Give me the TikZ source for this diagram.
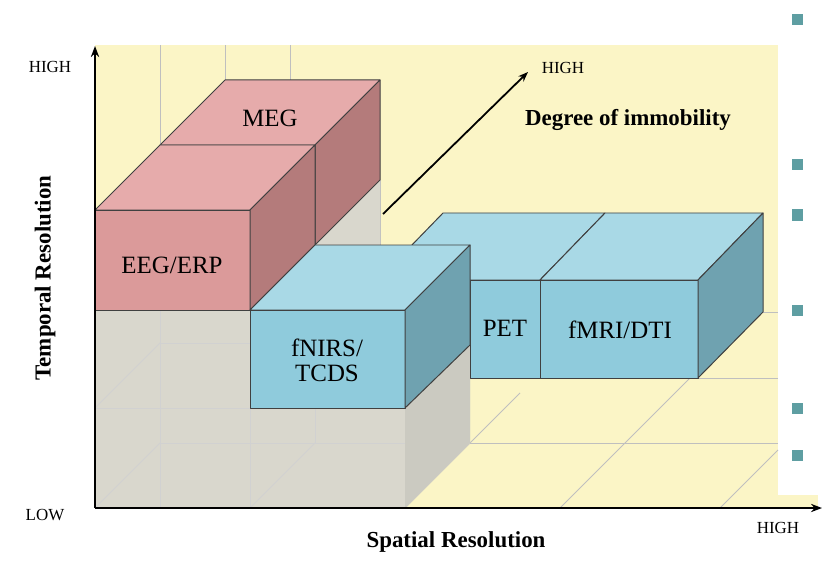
\documentclass[tikz,border=0pt]{standalone}
\usepackage{fontspec}
\setmainfont{Liberation Serif}
\usetikzlibrary{arrows.meta}
\definecolor{ybg}{HTML}{FBF5C6}
\definecolor{gfl}{HTML}{D9D7CD}
\definecolor{pfr}{HTML}{DB9A9A}
\definecolor{ptp}{HTML}{E6ABAB}
\definecolor{psd}{HTML}{B47B7B}
\definecolor{bfr}{HTML}{8FCBDC}
\definecolor{btp}{HTML}{A9D9E6}
\definecolor{bsd}{HTML}{6FA2B0}
\definecolor{teal}{HTML}{5E9EA2}
\tikzset{face/.style={draw=black!75,line width=1pt,line join=round},
 grid/.style={draw=black!25,line width=0.8pt},
 lab/.style={font=\fontsize{25}{26}\selectfont,align=center},
 small/.style={font=\fontsize{17}{19}\selectfont},
 bold/.style={font=\fontsize{23}{25}\selectfont\bfseries},
 sq/.style={fill=teal,minimum size=11bp,inner sep=0pt}}
\begin{document}
\begin{tikzpicture}[x=1bp,y=-1bp]
\useasboundingbox (0,0) rectangle (825,568);
\fill[ybg] (95,45) rectangle (778,508);
\fill[ybg] (778,495) rectangle (818,508);
% back grid lines
\foreach \x in {160,225,290}{\draw[grid] (\x,45) -- (\x,150);}
\draw[grid] (380,180) -- (380,245);
\draw[grid] (470,443) -- (778,443); \draw[grid] (470,378) -- (778,378);
\draw[grid] (763,312) -- (778,312);
\draw[grid] (405,508) -- (520,393); \draw[grid] (560,508) -- (690,378);
\draw[grid] (720,508) -- (778,450);
% gray stack
\fill[gfl] (95,310) -- (95,508) -- (405,508) -- (470,443) -- (470,245) -- (380,245) -- (380,180) -- (315,245) -- (250,310) -- cycle;
\fill[gfl!85!gray] (405,408) -- (470,345) -- (470,443) -- (405,508) -- cycle;
\begin{scope}[grid,draw=black!18]
\draw (95,408) -- (405,408); \draw (160,343) -- (405,343); \draw (160,443) -- (405,443);
\draw (160,310) -- (160,508); \draw (250,310) -- (250,508); \draw (315,245) -- (315,443);
\draw (95,508) -- (160,443); \draw (250,508) -- (315,443); \draw (95,408) -- (160,343);
\draw (250,408) -- (315,343); \draw (160,443) -- (160,343);
\end{scope}
% PET / fMRI
\filldraw[face,fill=btp] (378,280) -- (443,213) -- (605,213) -- (540,280) -- cycle;
\filldraw[face,fill=btp] (540,280) -- (605,213) -- (763,213) -- (698,280) -- cycle;
\filldraw[face,fill=bfr] (470,280) rectangle (540,378);
\filldraw[face,fill=bfr] (540,280) rectangle (698,378);
\filldraw[face,fill=bsd] (698,280) -- (763,213) -- (763,312) -- (698,378) -- cycle;
% MEG
\filldraw[face,fill=ptp] (160,145) -- (225,80) -- (380,80) -- (315,145) -- cycle;
\filldraw[face,fill=psd] (315,145) -- (380,80) -- (380,180) -- (315,245) -- cycle;
% EEG
\filldraw[face,fill=ptp] (95,210) -- (160,145) -- (315,145) -- (250,210) -- cycle;
\filldraw[face,fill=pfr] (95,210) rectangle (250,310);
\filldraw[face,fill=psd] (250,210) -- (315,145) -- (315,245) -- (250,310) -- cycle;
% depth arrow
\coordinate (d0) at (383,214); \coordinate (d1) at (528,72);
\draw[line width=1.8pt,-{Stealth[length=10bp]}] (d0) -- (d1);
% fNIRS
\filldraw[face,fill=btp] (250,310) -- (315,245) -- (470,245) -- (405,310) -- cycle;
\filldraw[face,fill=bfr] (250,310) rectangle (405,408);
\filldraw[face,fill=bsd] (405,310) -- (470,245) -- (470,345) -- (405,408) -- cycle;
% labels
\node[lab] (meg) at (270,118) {MEG};
\node[lab] (eeg) at (172,265) {EEG/ERP};
\node[lab] (fn) at (327,360) {fNIRS/\\[-1pt]TCDS};
\node[lab] (pet) at (505,328) {PET};
\node[lab] (fm) at (620,330) {fMRI/DTI};
% axes
\coordinate (o) at (95,508); \coordinate (yt) at (95,46); \coordinate (xr) at (822,508);
\draw[line width=2.2pt,-{Stealth[length=11bp]}] (o) -- (yt);
\draw[line width=2.2pt,-{Stealth[length=11bp]}] (o) -- (xr);
\node[small] (hy) at (50,67) {HIGH};
\node[small] (lo) at (45,515) {LOW};
\node[small] (hx) at (778,528) {HIGH};
\node[small] (hd) at (563,68) {HIGH};
\node[bold] (dg) at (628,120) {Degree of immobility};
\node[bold] (sr) at (456,542) {Spatial Resolution};
\node[bold,rotate=90] (tr) at (45,278) {Temporal Resolution};
\foreach \y/\n in {20/a,165/b,215/c,310/d,408/e,455/f}{\node[sq] (s\n) at (797,\y) {};}
\end{tikzpicture}
\end{document}
